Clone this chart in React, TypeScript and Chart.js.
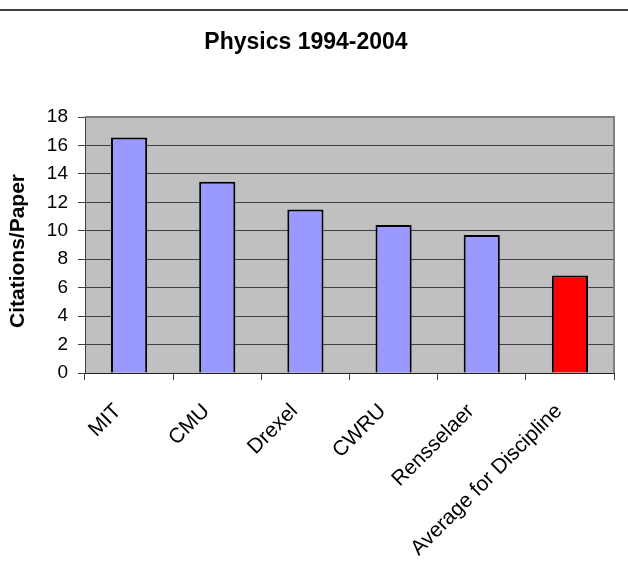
import { useEffect, useRef } from "react";
import { Chart, registerables } from "chart.js";

Chart.register(...registerables);

const categories = ["MIT", "CMU", "Drexel", "CWRU", "Rensselaer", "Average for Discipline"];
const citationsPerPaper = [16.55, 13.45, 11.5, 10.4, 9.7, 6.85];
const barColors = ["#9999FF", "#9999FF", "#9999FF", "#9999FF", "#9999FF", "#FF0000"];
const yMin = 0;
const yMax = 18;
const yStep = 2;
const chartTitle = "Physics 1994-2004";
const yAxisTitle = "Citations/Paper";

const FONT = "'Liberation Sans', Arial, sans-serif";

export default function App() {
  const canvasRef = useRef<HTMLCanvasElement | null>(null);

  useEffect(() => {
    const canvas = canvasRef.current;
    if (!canvas) return;

    const decorations = {
      id: "decorations",
      beforeDraw(chart: any) {
        const { ctx, chartArea } = chart;
        ctx.save();
        ctx.fillStyle = "#ffffff";
        ctx.fillRect(0, 0, chart.width, chart.height);
        ctx.fillStyle = "#404040";
        ctx.fillRect(0, 9, chart.width, 2);
        ctx.fillStyle = "#C0C0C0";
        ctx.fillRect(chartArea.left, chartArea.top, chartArea.right - chartArea.left, chartArea.bottom - chartArea.top);
        ctx.restore();
      },
      afterDraw(chart: any) {
        const { ctx, chartArea } = chart;
        ctx.save();
        ctx.strokeStyle = "#808080";
        ctx.lineWidth = 2;
        ctx.beginPath();
        ctx.moveTo(chartArea.left, chartArea.top);
        ctx.lineTo(chartArea.right, chartArea.top);
        ctx.lineTo(chartArea.right, chartArea.bottom);
        ctx.stroke();
        ctx.fillStyle = "#000000";
        ctx.font = `bold 23px ${FONT}`;
        ctx.textAlign = "center";
        ctx.textBaseline = "alphabetic";
        ctx.fillText(chartTitle, 306, 49);
        ctx.translate(24, 251);
        ctx.rotate(-Math.PI / 2);
        ctx.font = `bold 21px ${FONT}`;
        ctx.fillText(yAxisTitle, 0, 0);
        ctx.restore();
      },
    };

    const chart = new Chart(canvas, {
      type: "bar",
      data: {
        labels: categories,
        datasets: [
          {
            data: citationsPerPaper,
            backgroundColor: barColors,
            borderColor: "#000000",
            borderWidth: 2,
            barPercentage: 0.41,
            categoryPercentage: 1,
          },
        ],
      },
      options: {
        responsive: false,
        animation: false,
        devicePixelRatio: 1,
        layout: { padding: { top: 117, right: 14, left: 0, bottom: 0 } },
        plugins: {
          legend: { display: false },
          title: { display: false },
          tooltip: { enabled: false },
        },
        scales: {
          x: {
            afterFit(scale: any) {
              scale.height = 212;
            },
            grid: {
              display: true,
              drawOnChartArea: false,
              drawTicks: true,
              tickLength: 7,
              color: "#404040",
              offset: true,
            },
            border: { display: true, color: "#202020", width: 1 },
            ticks: {
              autoSkip: false,
              maxRotation: 45,
              minRotation: 45,
              padding: 19,
              labelOffset: -11,
              color: "#000000",
              font: { family: FONT, size: 21 },
            },
          },
          y: {
            min: yMin,
            max: yMax,
            afterFit(scale: any) {
              scale.width = 85;
            },
            grid: {
              color: (c: any) => (c.tick && c.tick.value === yMax ? "#808080" : "#404040"),
              tickColor: "#404040",
              tickLength: 7,
              drawTicks: true,
            },
            border: { display: true, color: "#404040", width: 1 },
            ticks: {
              stepSize: yStep,
              padding: 10,
              color: "#000000",
              font: { family: FONT, size: 19 },
            },
            title: { display: false },
          },
        },
      },
      plugins: [decorations],
    } as any);

    return () => chart.destroy();
  }, []);

  return (
    <div style={{ position: "fixed", left: 0, top: 0, width: 628, height: 585, background: "#fff" }}>
      <canvas ref={canvasRef} width={628} height={585} style={{ display: "block", width: 628, height: 585 }} />
    </div>
  );
}
